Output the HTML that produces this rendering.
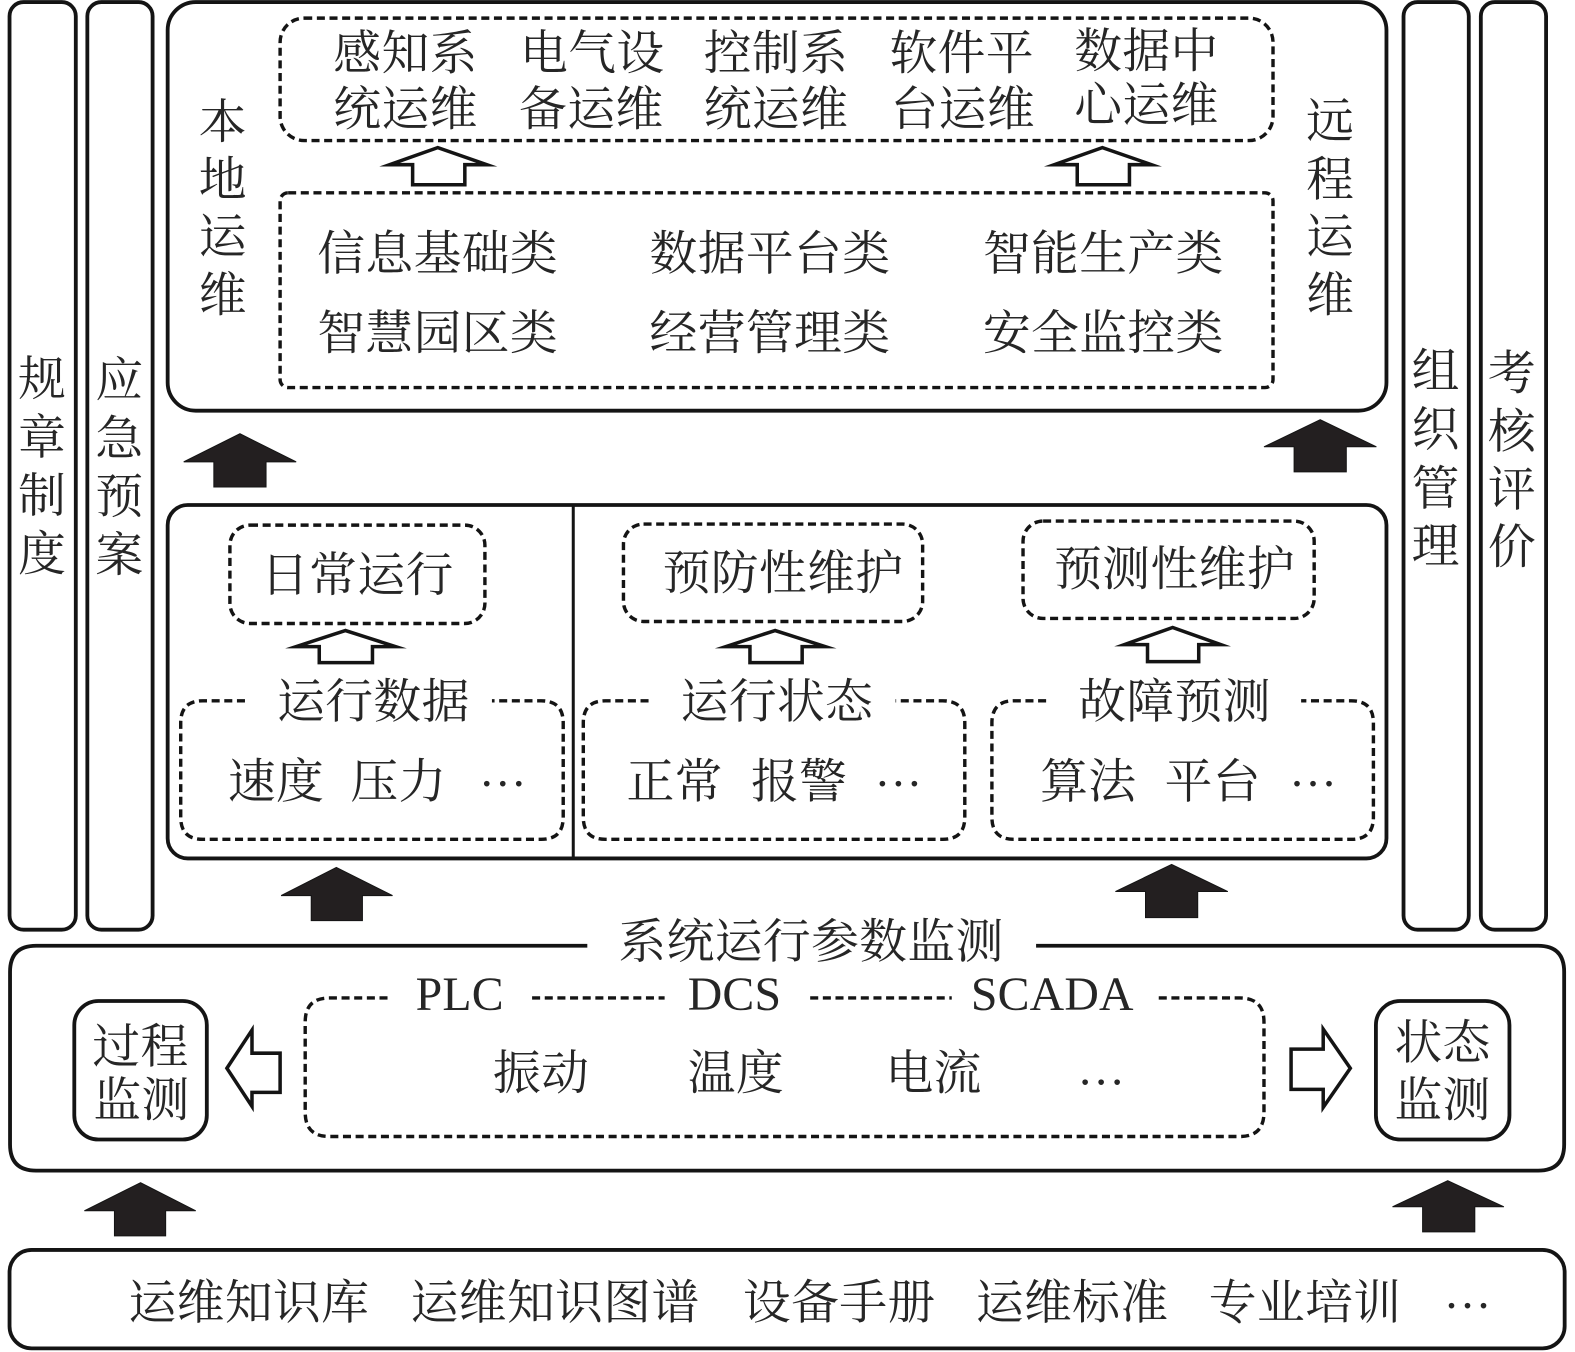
<!DOCTYPE html>
<html><head><meta charset="utf-8"><style>
html,body{margin:0;padding:0;background:#fff}
svg{display:block}
text{font-family:"Liberation Serif","Noto Serif CJK SC",serif;fill:#262626;font-size:47.6px;letter-spacing:.4px;transform:translateY(2px)}
.r{fill:none;stroke:#141414;stroke-width:3.8}
.d{fill:none;stroke:#141414;stroke-width:3.4;stroke-dasharray:8 4.6}
.s{fill:#231f20;stroke:#141414;stroke-width:1}
.h{fill:#fff;stroke:#141414;stroke-width:3.5;stroke-miterlimit:8}
.l{stroke:#141414;stroke-width:3}
</style></head><body>
<svg width="1575" height="1352" viewBox="0 0 1568.8 1346.6" xmlns="http://www.w3.org/2000/svg">
<!-- side bars -->
<rect class="r" x="9.5" y="2" width="66" height="924" rx="14"/>
<rect class="r" x="87" y="2" width="65" height="924" rx="14"/>
<rect class="r" x="1398" y="2" width="65" height="924" rx="14"/>
<rect class="r" x="1475" y="2" width="65" height="924" rx="14"/>
<text text-anchor="middle"><tspan x="42" y="392">规</tspan><tspan x="42" y="450">章</tspan><tspan x="42" y="508">制</tspan><tspan x="42" y="566">度</tspan></text>
<text text-anchor="middle"><tspan x="119" y="393">应</tspan><tspan x="119" y="451">急</tspan><tspan x="119" y="509">预</tspan><tspan x="119" y="567">案</tspan></text>
<text text-anchor="middle"><tspan x="1430" y="384">组</tspan><tspan x="1430" y="442">织</tspan><tspan x="1430" y="501">管</tspan><tspan x="1430" y="558">理</tspan></text>
<text text-anchor="middle"><tspan x="1506" y="386">考</tspan><tspan x="1506" y="444">核</tspan><tspan x="1506" y="502">评</tspan><tspan x="1506" y="559">价</tspan></text>

<!-- top block -->
<rect class="r" x="167" y="2" width="1214" height="407" rx="28"/>
<text text-anchor="middle"><tspan x="222" y="136">本</tspan><tspan x="222" y="193">地</tspan><tspan x="222" y="250">运</tspan><tspan x="222" y="308">维</tspan></text>
<text text-anchor="middle"><tspan x="1325" y="135">远</tspan><tspan x="1325" y="193">程</tspan><tspan x="1325" y="250">运</tspan><tspan x="1325" y="308">维</tspan></text>
<rect class="d" x="279" y="18" width="989" height="122" rx="24"/>
<text x="332" y="67">感知系</text><text x="332" y="123">统运维</text>
<text x="518" y="67">电气设</text><text x="517" y="123">备运维</text>
<text x="701" y="67">控制系</text><text x="701" y="123">统运维</text>
<text x="886" y="67">软件平</text><text x="887" y="123">台运维</text>
<text x="1070" y="65">数据中</text><text x="1070" y="119">心运维</text>
<polygon class="h" points="436,147 388,164 411,164 411,184 463,184 463,164 485,164"/>
<polygon class="h" points="1098,147 1050,164 1073,164 1073,184 1125,184 1125,164 1147,164"/>
<rect class="d" x="279" y="192" width="989" height="194" rx="8"/>
<text x="316" y="267">信息基础类</text><text x="647" y="267">数据平台类</text><text x="979" y="267">智能生产类</text>
<text x="316" y="346">智慧园区类</text><text x="647" y="346">经营管理类</text><text x="979" y="346">安全监控类</text>

<!-- up arrows between -->
<polygon class="s" points="239,432 183,460 213,460 213,485 265,485 265,460 295,460"/>
<polygon class="s" points="1315,418 1259,445 1289,445 1289,470 1341,470 1341,445 1371,445"/>

<!-- middle block -->
<rect class="r" x="167" y="503" width="1214" height="352" rx="20"/>
<line class="l" x1="571" y1="503" x2="571" y2="855"/>
<rect class="d" x="229" y="523" width="254" height="98" rx="20"/>
<text x="260" y="587">日常运行</text>
<rect class="d" x="621" y="522" width="298" height="97" rx="20"/>
<text x="660" y="585">预防性维护</text>
<rect class="d" x="1019" y="519" width="290" height="97" rx="20"/>
<text x="1050" y="581">预测性维护</text>
<polygon class="h" points="344,628 295,644 318,644 318,660 371,660 371,644 394,644"/>
<polygon class="h" points="772,628 723,644 747,644 747,660 799,660 799,644 822,644"/>
<polygon class="h" points="1168,625 1120,642 1143,642 1143,659 1194,659 1194,642 1216,642"/>

<path class="d" d="M244,698 H202 Q180,698 180,720 V814 Q180,836 202,836 H539 Q561,836 561,814 V720 Q561,698 539,698 H490"/>
<text x="276" y="713">运行数据</text>
<text x="227" y="793">速度</text><text x="349" y="793">压力</text><text x="477" y="781">…</text>
<path class="d" d="M646,698 H603 Q581,698 581,720 V814 Q581,836 603,836 H939 Q961,836 961,814 V720 Q961,698 939,698 H892"/>
<text x="678" y="713">运行状态</text>
<text x="624" y="793">正常</text><text x="748" y="793">报警</text><text x="871" y="781">…</text>
<path class="d" d="M1042,698 H1010 Q988,698 988,720 V814 Q988,836 1010,836 H1346 Q1368,836 1368,814 V720 Q1368,698 1346,698 H1296"/>
<text x="1074" y="713">故障预测</text>
<text x="1036" y="793">算法</text><text x="1160" y="793">平台</text><text x="1284" y="781">…</text>

<polygon class="s" points="335,864 280,892 310,892 310,917 361,917 361,892 391,892"/>
<polygon class="s" points="1167,861 1111,888 1141,888 1141,914 1193,914 1193,888 1223,888"/>

<!-- monitoring block -->
<path class="r" d="M585,942 H36 Q10,942 10,968 V1140 Q10,1166 36,1166 H1532 Q1558,1166 1558,1140 V968 Q1558,942 1532,942 H1032"/>
<text x="616" y="952">系统运行参数监测</text>
<rect class="r" x="74" y="997" width="132" height="138" rx="24"/>
<text x="92" y="1057">过程</text><text x="93" y="1110">监测</text>
<rect class="r" x="1370.5" y="997" width="133" height="138" rx="24"/>
<text x="1389" y="1053">状态</text><text x="1389" y="1110">监测</text>
<polygon class="h" points="226,1064 251,1026 251,1049 279,1049 279,1088 251,1088 251,1102"/>
<polygon class="h" points="1345,1064 1318,1025 1318,1045 1286,1045 1286,1085 1318,1085 1318,1103"/>
<path class="d" d="M386,994 H328 Q304,994 304,1018 V1108 Q304,1132 328,1132 H1235 Q1259,1132 1259,1108 V1018 Q1259,994 1235,994 H1152"/>
<line class="d" x1="530" y1="994" x2="662" y2="994"/>
<line class="d" x1="807" y1="994" x2="948" y2="994"/>
<text x="414" y="1004" style="letter-spacing:.2px">PLC</text>
<text x="685" y="1004" style="letter-spacing:.2px">DCS</text>
<text x="967" y="1004" style="letter-spacing:.2px">SCADA</text>
<text x="491" y="1083">振动</text><text x="685" y="1083">温度</text><text x="882" y="1083">电流</text><text x="1073" y="1078">…</text>

<polygon class="s" points="140,1178 84,1206 114,1206 114,1231 165,1231 165,1206 195,1206"/>
<polygon class="s" points="1442,1176 1387,1202 1417,1202 1417,1227 1469,1227 1469,1202 1498,1202"/>

<!-- knowledge block -->
<rect class="r" x="9.5" y="1245" width="1549" height="98" rx="22"/>
<text x="128" y="1312">运维知识库</text>
<text x="409" y="1312">运维知识图谱</text>
<text x="740" y="1312">设备手册</text>
<text x="972" y="1312">运维标准</text>
<text x="1204" y="1312">专业培训</text>
<text x="1438" y="1301">…</text>
</svg>
</body></html>
